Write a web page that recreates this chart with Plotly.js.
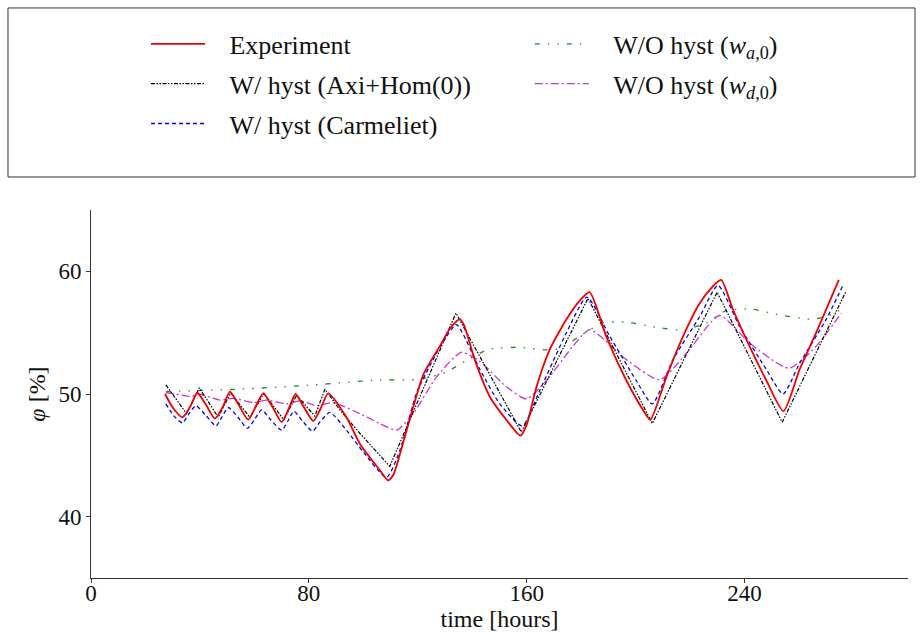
<!DOCTYPE html>
<html>
<head>
<meta charset="utf-8">
<script src="https://cdn.plot.ly/plotly-3.0.1.min.js"></script>
<style>html,body{margin:0;padding:0;background:#fff;}#chart{width:923px;height:642px;}</style>
</head>
<body>
<div id="chart"></div>
<script>
// ---- data ----
const expT = [27.2, 30, 33.6, 36.5, 39.0, 42, 45.5, 48.5, 51.0, 54, 57.7, 60.5, 63.2, 66.5, 70.0, 72.8, 75.1, 78, 81.6, 84.5, 87.1, 93.8, 98.7, 106, 109.1, 111, 115.2, 122, 128.1, 132, 135.4, 137, 140.9, 146.4, 152.5, 157.7, 160, 163.6, 168.4, 174.6, 179.4, 183.1, 189.2, 196.6, 202.7, 205.4, 211.3, 217.4, 223.5, 228, 231.4, 235.7, 241.8, 248, 254.3, 260.2, 266.3, 274.6];
const expPhi = [50.0, 48.9, 48.1, 49.0, 50.1, 49.2, 48.0, 49.0, 50.2, 49.2, 47.9, 49.0, 50.05, 49.0, 47.7, 48.9, 50.0, 49.0, 47.8, 48.9, 50.05, 48.1, 45.95, 43.8, 42.95, 43.4, 46.5, 51.56, 53.9, 55.4, 56.1, 55.6, 52.8, 49.8, 47.9, 46.6, 47.5, 50.6, 53.6, 56.1, 57.6, 58.3, 54.7, 51.1, 48.7, 47.9, 51.4, 54.7, 57.4, 58.7, 59.3, 56.9, 53.9, 51.1, 48.6, 52.0, 55.0, 59.3];

const axiT = [27.5, 35.1, 39.8, 46.7, 51.3, 58.3, 63.5, 70.8, 75.5, 82.2, 85.9, 91.4, 98.7, 109.7, 134, 158, 182.5, 206.1, 229.9, 253.8, 277.3];
const axiPhi = [50.74, 48.4, 50.5, 48.1, 50.1, 48.1, 50.05, 47.9, 49.9, 48.2, 50.4, 48.7, 46.8, 44.1, 56.6, 46.9, 57.8, 47.6, 58.3, 47.7, 58.4];

const carT = [27.5, 30.5, 33.6, 36, 38.5, 42, 45.9, 48, 50.4, 54, 57.4, 60, 62.6, 66, 70, 72.3, 74.5, 78, 81.4, 84, 87.7, 93.8, 99.9, 108.5, 113.4, 119.5, 125.6, 130, 134.2, 142.8, 150.1, 158.4, 164.8, 174.6, 182.1, 190.5, 200.2, 206.1, 213.7, 223.5, 230.2, 238.2, 248, 254.1, 260.2, 270, 276.1];
const carPhi = [49.2, 48.2, 47.65, 48.4, 49.05, 48.3, 47.4, 48.1, 48.9, 48.1, 47.2, 47.9, 48.7, 47.9, 47.05, 47.8, 48.6, 47.7, 46.97, 47.7, 48.5, 47.05, 45.3, 43.2, 45.4, 50.05, 52.8, 54.5, 55.66, 52.0, 49.2, 47.4, 50.3, 55.0, 57.9, 54.7, 51.1, 49.2, 52.8, 56.3, 58.85, 55.5, 52.0, 50.0, 52.5, 56.1, 58.85];

const waT = [27.5, 54.7, 79.2, 106, 120.7, 130.5, 139.1, 146.4, 157.4, 167.2, 172.1, 179.4, 188, 196.6, 208.8, 217.4, 225.9, 233.2, 243.1, 251.6, 263.9, 270, 275.5];
const waPhi = [50.2, 50.4, 50.7, 51.15, 51.2, 51.8, 52.9, 53.66, 53.8, 53.6, 53.7, 54.7, 55.8, 55.84, 55.4, 55.2, 55.8, 56.8, 56.9, 56.5, 56.1, 56.3, 56.9];

const wdT = [27.5, 31, 36.3, 40, 47.3, 52.2, 59.6, 64.5, 71.8, 76.7, 82.8, 88.9, 98.7, 106, 112.2, 118.3, 126.9, 136, 142.8, 152.5, 159.9, 167.2, 177, 183.1, 196.6, 208.8, 218.6, 230.8, 241.8, 256.3, 266.3, 275.5];
const wdPhi = [50.1, 50.0, 49.8, 49.98, 49.5, 49.65, 49.3, 49.5, 49.2, 49.45, 49.05, 49.3, 48.4, 47.6, 47.05, 48.4, 51.4, 53.4, 52.65, 50.6, 49.6, 51.1, 53.9, 55.25, 52.8, 51.15, 53.3, 56.4, 54.15, 52.1, 53.9, 56.6];

const names = ['Experiment', 'W/ hyst (Axi+Hom(0))', 'W/ hyst (Carmeliet)', 'W/O hyst (<i>w</i><sub><i>a</i>,0</sub>)', 'W/O hyst (<i>w</i><sub><i>d</i>,0</sub>)'];
const xTicks = [0, 80, 160, 240];
const yTicks = [40, 50, 60];

const FONT = '"Liberation Serif", "DejaVu Serif", serif';
const PAD = '\u00a0\u00a0\u00a0';

const traces = [
  {x: waT, y: waPhi, name: PAD + names[3], mode: 'lines', line: {color: '#228b22', width: 1.3, dash: '5px,8px,1.5px,8px,1.5px,8px', shape: 'spline', smoothing: 0.6}, legend: 'legend2', legendgroup: 'g4', legendrank: 4},
  {x: wdT, y: wdPhi, name: PAD + names[4], mode: 'lines', line: {color: '#cc33cc', width: 1.3, dash: '8px,3px,2px,3px', shape: 'spline', smoothing: 0.6}, legend: 'legend2', legendgroup: 'g5', legendrank: 5},
  {x: carT, y: carPhi, name: PAD + names[2], mode: 'lines', line: {color: '#0000ee', width: 1.3, dash: '4px,3px', shape: 'spline', smoothing: 0.6}, legend: 'legend', legendgroup: 'g3', legendrank: 3},
  {x: axiT, y: axiPhi, name: PAD + names[1], mode: 'lines', line: {color: '#000000', width: 1.2, dash: '4px,1.5px,1.5px,1.5px,1.5px,1.5px'}, legend: 'legend', legendgroup: 'g2', legendrank: 2},
  {x: expT, y: expPhi, name: PAD + names[0], mode: 'lines', line: {color: '#ee0000', width: 1.8, shape: 'spline', smoothing: 0.6}, legend: 'legend', legendgroup: 'g1', legendrank: 1}
];

const legendCommon = {
  yref: 'paper', xref: 'paper', yanchor: 'top', xanchor: 'left',
  orientation: 'v', tracegroupgap: 3, bgcolor: 'rgba(0,0,0,0)',
  font: {family: FONT, size: 26, color: '#111'}, itemwidth: 54, traceorder: 'grouped'
};

const layout = {
  width: 923, height: 642,
  margin: {l: 91, r: 15, t: 210, b: 64},
  paper_bgcolor: '#fff', plot_bgcolor: '#fff',
  font: {family: FONT, size: 23, color: '#111'},
  showlegend: true,
  legend: Object.assign({}, legendCommon, {x: 0.0673, y: 1.515}),
  legend2: Object.assign({}, legendCommon, {x: 0.537, y: 1.515}),
  xaxis: {
    range: [0, 300], tickvals: xTicks, ticktext: xTicks.map(String),
    showgrid: false, zeroline: false, showline: true, linecolor: '#333', linewidth: 1,
    ticks: 'outside', ticklen: 4, tickwidth: 1, tickcolor: '#333',
    ticklabelposition: 'outside', ticklabelstandoff: -10,
    tickfont: {family: FONT, size: 23, color: '#111'},
    title: {text: 'time [hours]', font: {family: FONT, size: 24, color: '#111'}, standoff: 0}
  },
  yaxis: {
    range: [35, 65], tickvals: yTicks, ticktext: yTicks.map(String),
    showgrid: false, zeroline: false, showline: true, linecolor: '#333', linewidth: 1,
    ticks: 'outside', ticklen: 4, tickwidth: 1, tickcolor: '#333',
    tickfont: {family: FONT, size: 23, color: '#111'},
    title: {text: '<i>φ</i> [%]', font: {family: FONT, size: 24, color: '#111'}, standoff: 6}
  },
  shapes: [{
    type: 'rect', xref: 'paper', yref: 'paper',
    x0: -0.1016, x1: 1.0086, y0: 1.0897, y1: 1.549,
    line: {color: '#333', width: 1}, fillcolor: 'rgba(0,0,0,0)', layer: 'below'
  }]
};

Plotly.newPlot('chart', traces, layout, {displayModeBar: false, staticPlot: true});
</script>
</body>
</html>
